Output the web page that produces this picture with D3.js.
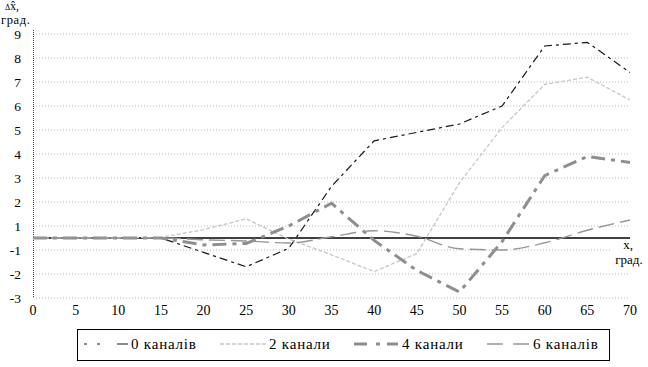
<!DOCTYPE html>
<html><head><meta charset="utf-8">
<script src="https://cdn.jsdelivr.net/npm/d3@7"></script>
<style>body{margin:0;background:#fff}svg{display:block}</style>
</head><body>
<script>
const xValues = [0,5,10,15,20,25,30,35,40,45,50,55,60,65,70];
const seriesNames = ["0 каналів","2 канали","4 канали","6 каналів"];
const s0 = [0,0,0,0,-1.1,-1.7,-0.85,2.65,4.55,4.9,5.25,6.0,8.5,8.65,7.4];
const s2 = [0,0,0,0.05,0.7,1.3,-0.1,-1.2,-1.9,-1.15,2.8,5.1,6.9,7.2,6.25];
const s4 = [0,0,0,0,-0.58,-0.45,1.0,1.95,-0.2,-1.85,-2.75,-0.3,3.1,3.9,3.65];
const s6 = [0,0,0,0,-0.15,-0.25,-0.42,0.1,0.6,0.15,-0.9,-1.0,-0.4,0.65,1.25];
const yTicks = [9,8,7,6,5,4,3,2,1,-1,-2,-3];
const xTicks = [0,5,10,15,20,25,30,35,40,45,50,55,60,65,70];

const W=648,H=367;
const FONT='"Liberation Serif","Times New Roman",serif';
const svg=d3.select("body").append("svg").attr("width",W).attr("height",H)
  .attr("font-family",FONT);
const x=d3.scaleLinear().domain([0,70]).range([33,630]);
const y=d3.scaleLinear().domain([-3,-1,1,9]).range([298,250,226,34]);

// gridlines
svg.append("g").selectAll("line").data(yTicks).join("line")
  .attr("x1",x(0)).attr("x2",x(70)).attr("y1",d=>y(d)).attr("y2",d=>y(d))
  .attr("stroke","#b8b8b8").attr("stroke-width",1).attr("stroke-dasharray","1,2");
// y axis line dotted
svg.append("line").attr("x1",x(0)+0.5).attr("x2",x(0)+0.5).attr("y1",y(9)-4).attr("y2",y(-3))
  .attr("stroke","#444").attr("stroke-dasharray","1,1");
// y tick labels
svg.append("g").selectAll("text").data(yTicks).join("text")
  .attr("x",21).attr("y",d=>y(d)).attr("dy","0.35em").attr("text-anchor","end")
  .attr("font-size",13.5).text(d=>d);
// x tick labels
svg.append("g").selectAll("text").data(xTicks).join("text")
  .attr("x",d=>x(d)).attr("y",315).attr("text-anchor","middle")
  .attr("font-size",14).text(d=>d);

// x-axis title background (cuts gridline as in reference)
svg.append("rect").attr("x",611).attr("y",240).attr("width",37).attr("height",28).attr("fill","#fff");

// zero line
svg.append("line").attr("x1",x(0)).attr("x2",x(70)).attr("y1",y(0)).attr("y2",y(0))
  .attr("stroke","#000").attr("stroke-width",1.5);

const styles=[
  {data:s0,color:"#1a1a1a",w:1.2,dash:"8,4,3,4",legDash:"3,10,3,17,11",curve:d3.curveLinear},
  {data:s2,color:"#c6c6c6",w:1.3,dash:"4,2",legDash:"4,2",curve:d3.curveLinear},
  {data:s4,color:"#8e8e8e",w:3,dash:"14,6,4,6",legDash:"13,9,4,7,11",curve:d3.curveLinear},
  {data:s6,color:"#979797",w:1.4,dash:"16,6",legDash:"16,10",curve:d3.curveMonotoneX}
];
styles.forEach(s=>{
  const line=d3.line().x((d,i)=>x(xValues[i])).y(d=>y(d)).curve(s.curve);
  svg.append("path").datum(s.data).attr("d",line).attr("fill","none")
    .attr("stroke",s.color).attr("stroke-width",s.w).attr("stroke-dasharray",s.dash);
});

// y-axis title
const yt=svg.append("text").attr("x",5).attr("y",10).attr("font-size",11.5);
yt.append("tspan").attr("font-size",8).text("Δ");
yt.append("tspan").text("x\u0302,");
svg.append("text").attr("x",1).attr("y",23.8).attr("font-size",12.5)
  .attr("letter-spacing",0.6).text("град.");
// x-axis title
svg.append("text").attr("x",628).attr("y",249).attr("font-size",13).attr("text-anchor","middle").text("x,");
svg.append("text").attr("x",629).attr("y",264).attr("font-size",13).attr("text-anchor","middle").text("град.");

// legend
svg.append("rect").attr("x",77.5).attr("y",329.5).attr("width",532).attr("height",31)
  .attr("fill","#fff").attr("stroke","#000").attr("stroke-width",1);
const legX=[[84,128],[220,266],[354,399],[487,530]];
styles.forEach((s,i)=>{
  svg.append("line").attr("x1",legX[i][0]).attr("x2",legX[i][1]).attr("y1",344).attr("y2",344)
    .attr("stroke",s.color).attr("stroke-width",s.w).attr("stroke-dasharray",s.legDash);
  svg.append("text").attr("x",legX[i][1]+3).attr("y",349).attr("font-size",15)
    .attr("letter-spacing",0.8).text(seriesNames[i]);
});
</script>
</body></html>
